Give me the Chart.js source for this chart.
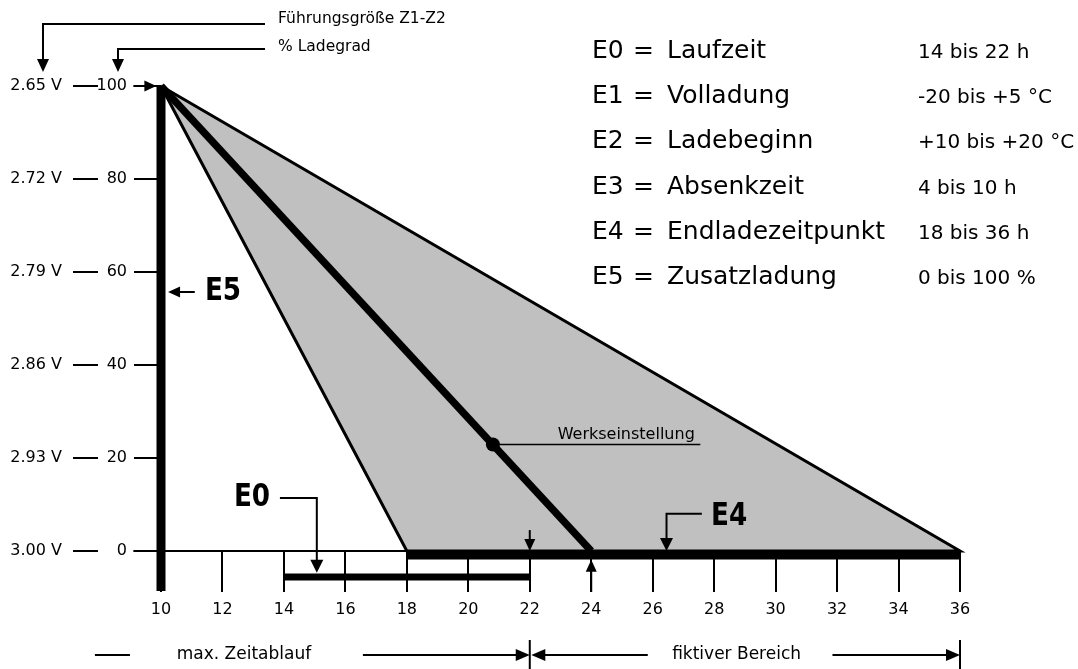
<!DOCTYPE html>
<html>
<head>
<meta charset="utf-8">
<script src="https://cdn.jsdelivr.net/npm/chart.js@4.4.1/dist/chart.umd.min.js"></script>
<style>
  html, body { margin: 0; padding: 0; background: #fff; }
</style>
</head>
<body>
<canvas id="myChart" width="1078" height="669"></canvas>
<script>

// axis ticks
let xTicks = [10, 12, 14, 16, 18, 20, 22, 24, 26, 28, 30, 32, 34, 36];
let yTicks = [0, 20, 40, 60, 80, 100];
let voltLabels = ["3.00 V", "2.93 V", "2.86 V", "2.79 V", "2.72 V", "2.65 V"];

// charge band: 100 % at 10 h, down to 0 somewhere between 18 h and 36 h
let bandX = [10, 18, 36, 10];
let bandY = [100, 0, 0, 100];

// factory setting (Werkseinstellung)
let factoryX = [10, 24];
let factoryY = [100, 0];
let factoryPointX = [20.8];
let factoryPointY = [22.9];

// E0 Laufzeit 14..22 h, E4 Endladezeitpunkt 18..36 h, E5 Zusatzladung 0..100 %
let e0X = [14, 22];
let e0Y = [-5.6, -5.6];
let e4X = [18, 36];
let e4Y = [-0.9, -0.9];
let e5X = [10, 10];
let e5Y = [-8.6, 100];
let axisX = [9.1, 36];
let axisY = [0, 0];

// legend block
let legendCodes = ["E0", "E1", "E2", "E3", "E4", "E5"];
let legendNames = ["Laufzeit", "Volladung", "Ladebeginn", "Absenkzeit", "Endladezeitpunkt", "Zusatzladung"];
let legendRanges = ["14 bis 22 h", "-20 bis +5 °C", "+10 bis +20 °C", "4 bis 10 h", "18 bis 36 h", "0 bis 100 %"];

const FONT = '"DejaVu Sans", sans-serif';
const BOLD = 'bold 32px "DejaVu Sans", sans-serif';

Chart.defaults.font.family = FONT;
Chart.defaults.color = "#000";

function pts(xs, ys) {
    return xs.map((x, i) => ({ x: x, y: ys[i] }));
}

function lineSet(xs, ys, width, extra) {
    return Object.assign({
        data: pts(xs, ys),
        showLine: true,
        borderColor: "#000",
        borderWidth: width,
        pointRadius: 0,
        borderCapStyle: "butt",
        fill: false,
        clip: false
    }, extra || {});
}

// draw a polyline with an arrow head at its last point (pixels)
function arrow(ctx, p, lw, len, half) {
    let n = p.length;
    let a = p[n - 2], b = p[n - 1];
    let dx = b[0] - a[0], dy = b[1] - a[1];
    let d = Math.hypot(dx, dy);
    let ux = dx / d, uy = dy / d;
    ctx.lineWidth = lw;
    ctx.beginPath();
    ctx.moveTo(p[0][0], p[0][1]);
    for (let i = 1; i < n - 1; i++) ctx.lineTo(p[i][0], p[i][1]);
    ctx.lineTo(b[0] - ux * (len - 1), b[1] - uy * (len - 1));
    ctx.stroke();
    ctx.beginPath();
    ctx.moveTo(b[0], b[1]);
    ctx.lineTo(b[0] - ux * len - uy * half, b[1] - uy * len + ux * half);
    ctx.lineTo(b[0] - ux * len + uy * half, b[1] - uy * len - ux * half);
    ctx.closePath();
    ctx.fill();
}

function line(ctx, p, lw) {
    ctx.lineWidth = lw;
    ctx.beginPath();
    ctx.moveTo(p[0][0], p[0][1]);
    for (let i = 1; i < p.length; i++) ctx.lineTo(p[i][0], p[i][1]);
    ctx.stroke();
}

// condensed bold label
function boldText(ctx, txt, x, y, align) {
    ctx.save();
    ctx.font = BOLD;
    ctx.textAlign = align;
    ctx.textBaseline = "middle";
    ctx.translate(x, y);
    ctx.scale(0.82, 1);
    ctx.fillText(txt, 0, 0);
    ctx.restore();
}

const annotations = {
    id: "annotations",
    afterDraw(chart) {
        const ctx = chart.ctx;
        const px = v => chart.scales.x.getPixelForValue(v);
        const py = v => chart.scales.y.getPixelForValue(v);
        ctx.save();
        ctx.strokeStyle = "#000";
        ctx.fillStyle = "#000";
        ctx.lineCap = "butt";

        // header leaders
        arrow(ctx, [[265, 24], [43, 24], [43, 72]], 2, 13, 6);
        arrow(ctx, [[265, 49], [118, 49], [118, 72]], 2, 13, 6);
        ctx.font = "15.5px " + FONT;
        ctx.textAlign = "left";
        ctx.textBaseline = "middle";
        ctx.fillText("Führungsgröße Z1-Z2", 278, 19);
        ctx.fillText("% Ladegrad", 278, 47);

        // arrow at 100 %
        arrow(ctx, [[px(9.1), py(100)], [px(9.85), py(100)]], 2, 12, 5.5);

        // E5
        arrow(ctx, [[px(11.1), py(55.7)], [px(10.23), py(55.7)]], 2, 12, 5.5);
        boldText(ctx, "E5", px(11.43), py(55.7), "left");

        // E0
        arrow(ctx, [[px(13.87), py(11.4)], [px(15.07), py(11.4)], [px(15.07), py(-4.7)]], 2, 13, 6.5);
        boldText(ctx, "E0", px(13.55), py(11.4), "right");

        // E4
        arrow(ctx, [[px(27.6), py(8)], [px(26.45), py(8)], [px(26.45), py(0)]], 2, 13, 6.5);
        boldText(ctx, "E4", px(27.9), py(7.4), "left");

        // markers at 22 h and 24 h
        arrow(ctx, [[px(22), py(4.5)], [px(22), py(0)]], 2, 12, 5.5);
        arrow(ctx, [[px(24), py(-8.8)], [px(24), py(-1.9)]], 2, 12, 5.5);

        // Werkseinstellung
        line(ctx, [[px(factoryPointX[0]), py(factoryPointY[0])], [px(27.55), py(factoryPointY[0])]], 1.5);
        ctx.font = "16px " + FONT;
        ctx.textAlign = "right";
        ctx.textBaseline = "alphabetic";
        ctx.fillText("Werkseinstellung", px(27.37), py(factoryPointY[0]) - 6);

        // bottom row
        let by = 655;
        line(ctx, [[px(7.85), by], [px(8.99), by]], 2);
        arrow(ctx, [[px(16.57), by], [px(22), by]], 2, 14, 6);
        arrow(ctx, [[px(25.84), by], [px(22.05), by]], 2, 14, 6);
        arrow(ctx, [[px(31.85), by], [px(36), by]], 2, 14, 6);
        line(ctx, [[px(22), 640], [px(22), 669]], 2);
        line(ctx, [[px(36), 640], [px(36), 669]], 2);
        ctx.font = "17px " + FONT;
        ctx.textAlign = "center";
        ctx.textBaseline = "middle";
        ctx.fillText("max. Zeitablauf", px(12.7), by);
        ctx.fillText("fiktiver Bereich", px(28.73), by);

        // legend block
        ctx.textAlign = "left";
        ctx.textBaseline = "alphabetic";
        for (let k = 0; k < legendCodes.length; k++) {
            let y = 58 + k * 45.2;
            ctx.font = "25px " + FONT;
            ctx.fillText(legendCodes[k], 592, y);
            ctx.fillText("=", 633, y);
            ctx.fillText(legendNames[k], 667, y);
            ctx.font = "20px " + FONT;
            ctx.fillText(legendRanges[k], 918, y);
        }
        ctx.restore();
    }
};

let data = {
    datasets: [
        // factory point
        {
            data: pts(factoryPointX, factoryPointY),
            pointRadius: 7,
            pointBackgroundColor: "#000",
            pointBorderWidth: 0,
            showLine: false,
            clip: false
        },
        lineSet(e5X, e5Y, 9),
        lineSet(e0X, e0Y, 7),
        lineSet(e4X, e4Y, 8.5),
        lineSet(factoryX, factoryY, 7.5),
        lineSet(axisX, axisY, 2),
        // gray band
        lineSet(bandX, bandY, 3, { fill: "shape", backgroundColor: "#c0c0c0", borderJoinStyle: "miter" })
    ]
};

let config = {
    type: "scatter",
    data: data,
    options: {
        responsive: false,
        animation: false,
        layout: { padding: { left: 0, right: 118, top: 86, bottom: 38 } },
        plugins: {
            legend: { display: false },
            tooltip: { enabled: false },
            title: { display: false }
        },
        scales: {
            x: {
                type: "linear",
                min: 10,
                max: 36,
                afterBuildTicks: s => { s.ticks = xTicks.map(v => ({ value: v })); },
                afterFit: s => { s.height = 80; },
                grid: { drawOnChartArea: false, tickLength: 41, color: "#000", lineWidth: 2 },
                border: { display: false },
                ticks: { font: { size: 16 }, padding: 8, maxRotation: 0, autoSkip: false }
            },
            y: {
                type: "linear",
                position: "left",
                weight: 0,
                min: 0,
                max: 100,
                afterBuildTicks: s => { s.ticks = yTicks.map(v => ({ value: v })); },
                afterFit: s => { s.width = 63; },
                grid: { drawOnChartArea: false, tickLength: 27, color: "#000", lineWidth: 2 },
                border: { display: false },
                ticks: { font: { size: 16 }, padding: 7 }
            },
            yV: {
                type: "linear",
                position: "left",
                weight: 10,
                min: 0,
                max: 100,
                afterBuildTicks: s => { s.ticks = yTicks.map(v => ({ value: v })); },
                afterFit: s => { s.width = 98; },
                grid: { drawOnChartArea: false, tickLength: 25, color: "#000", lineWidth: 2 },
                border: { display: false },
                ticks: {
                    font: { size: 16 },
                    padding: 11,
                    callback: v => voltLabels[yTicks.indexOf(v)]
                }
            }
        }
    },
    plugins: [annotations]
};

var myChart = new Chart(document.getElementById("myChart"), config);
</script>
</body>
</html>
